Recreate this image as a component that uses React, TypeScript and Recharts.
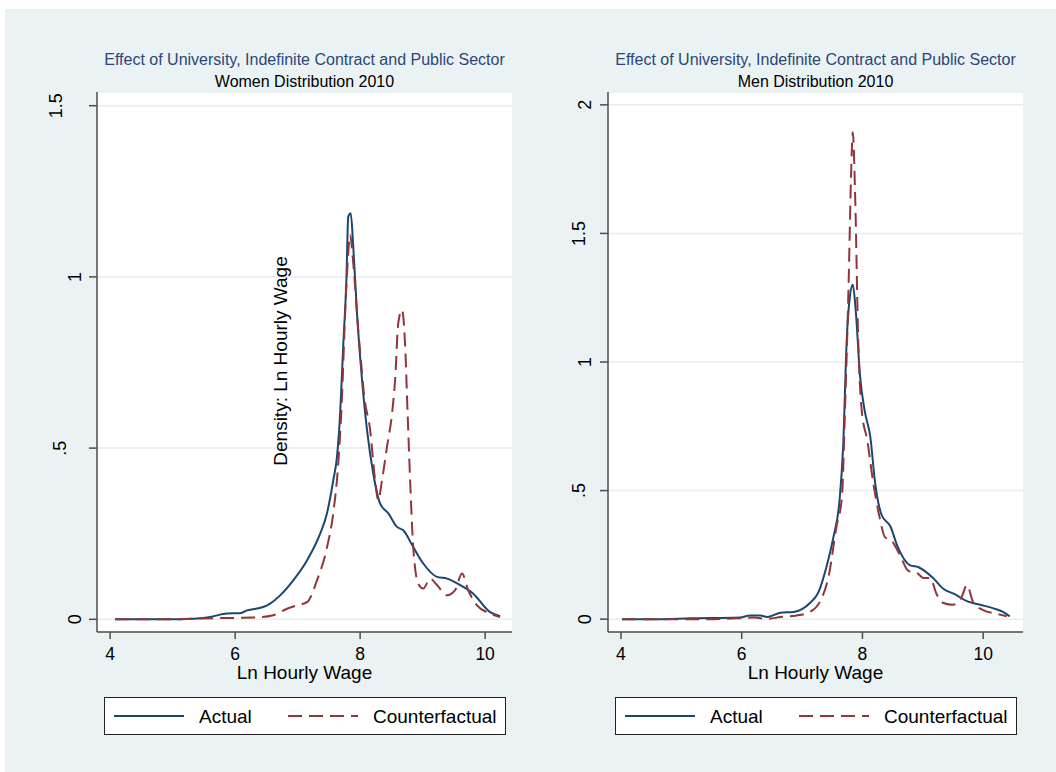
import { LineChart, Line, XAxis, YAxis, CartesianGrid } from 'recharts';

// kernel density estimates: [ln wage, density]
const womenActual: [number, number][] = [
  [4.08, 0], [4.6, 0], [5.0, 0], [5.23, 0.001], [5.6, 0.007], [5.87, 0.017], [6.08, 0.018],
  [6.19, 0.026], [6.45, 0.036], [6.56, 0.046], [6.72, 0.07], [6.93, 0.114], [7.15, 0.172],
  [7.36, 0.25], [7.47, 0.31], [7.57, 0.406], [7.63, 0.475], [7.68, 0.6], [7.73, 0.8],
  [7.78, 0.99], [7.81, 1.176], [7.85, 1.186], [7.89, 1.089], [7.95, 0.894], [8.03, 0.7],
  [8.11, 0.553], [8.21, 0.426], [8.32, 0.338], [8.45, 0.31], [8.59, 0.27], [8.69, 0.26],
  [8.85, 0.211], [9.01, 0.163], [9.23, 0.124], [9.39, 0.119], [9.6, 0.1], [9.81, 0.075],
  [10.08, 0.021], [10.24, 0.009],
];

const womenCounter: [number, number][] = [
  [4.08, 0], [4.6, 0], [5.0, 0], [5.3, 0.002], [5.9, 0.004], [6.3, 0.005], [6.61, 0.012],
  [6.83, 0.031], [6.99, 0.041], [7.15, 0.05], [7.31, 0.114], [7.47, 0.21], [7.57, 0.31],
  [7.65, 0.455], [7.71, 0.65], [7.76, 0.894], [7.8, 1.04], [7.84, 1.123], [7.89, 1.04],
  [7.97, 0.845], [8.03, 0.72], [8.06, 0.66], [8.16, 0.553], [8.24, 0.406], [8.29, 0.348],
  [8.35, 0.406], [8.43, 0.504], [8.51, 0.6], [8.56, 0.7], [8.61, 0.865], [8.67, 0.904],
  [8.72, 0.8], [8.76, 0.6], [8.8, 0.406], [8.85, 0.21], [8.93, 0.104], [9.01, 0.09],
  [9.12, 0.119], [9.23, 0.1], [9.39, 0.07], [9.52, 0.085], [9.63, 0.134], [9.73, 0.085],
  [9.87, 0.041], [10.08, 0.017], [10.24, 0.007],
];

const menActual: [number, number][] = [
  [4.02, 0], [4.6, 0], [5.15, 0.003], [5.97, 0.006], [6.14, 0.014], [6.31, 0.014],
  [6.42, 0.008], [6.64, 0.025], [6.86, 0.028], [7.0, 0.039], [7.13, 0.063], [7.27, 0.104],
  [7.41, 0.209], [7.52, 0.32], [7.62, 0.46], [7.68, 0.668], [7.74, 1.086], [7.79, 1.25],
  [7.84, 1.3], [7.89, 1.197], [7.96, 0.946], [8.04, 0.807], [8.13, 0.71], [8.21, 0.53],
  [8.32, 0.404], [8.46, 0.362], [8.59, 0.278], [8.79, 0.209], [8.93, 0.202], [9.17, 0.16],
  [9.34, 0.118], [9.53, 0.097], [9.73, 0.07], [9.95, 0.056], [10.17, 0.042], [10.33, 0.028],
  [10.44, 0.011],
];

const menCounter: [number, number][] = [
  [4.02, 0], [4.6, 0], [5.4, 0], [5.92, 0.003], [6.2, 0.006], [6.42, 0.001], [6.64, 0.008],
  [6.91, 0.014], [7.13, 0.028], [7.3, 0.07], [7.44, 0.167], [7.57, 0.36], [7.66, 0.473],
  [7.71, 0.807], [7.77, 1.294], [7.81, 1.71], [7.84, 1.893], [7.88, 1.64], [7.93, 1.086],
  [7.99, 0.807], [8.08, 0.696], [8.18, 0.529], [8.29, 0.39], [8.37, 0.32], [8.48, 0.306],
  [8.62, 0.25], [8.76, 0.188], [8.9, 0.181], [9.01, 0.16], [9.12, 0.16], [9.23, 0.097],
  [9.34, 0.063], [9.5, 0.056], [9.64, 0.084], [9.73, 0.132], [9.84, 0.063], [10.0, 0.035],
  [10.22, 0.021], [10.39, 0.011],
];

const xTicks = [4, 6, 8, 10];
const womenYTicks = [0, 0.5, 1, 1.5];
const menYTicks = [0, 0.5, 1, 1.5, 2];

const FONT = '"Liberation Sans", Arial, sans-serif';
const NAVY = '#1a476f';
const MAROON = '#90353b';
const AXIS = '#4d4d4d';
const BG = '#eaf2f3';
const DASH = '14 7';

const toPoints = (pts: [number, number][]) => pts.map(([x, y]) => ({ x, y }));

const fmt = (v: number) => (v > 0 && v < 1 ? String(v).replace(/^0/, '') : String(v));

// Stata nudges the longer vertical labels further from the axis
const makeYTick = (axisX: number, offsets: Record<string, number>) => (props: any) => {
  const label = fmt(props.payload.value);
  const cx = axisX - (offsets[label] ?? 22);
  return (
    <text
      x={cx}
      y={props.y}
      transform={`rotate(-90 ${cx} ${props.y})`}
      textAnchor="middle"
      dominantBaseline="central"
      fontSize={18}
      fontFamily={FONT}
      fill="#000"
    >
      {label}
    </text>
  );
};

const XTick = (props: any) => (
  <text x={props.x} y={660} textAnchor="middle" fontSize={17.5} fontFamily={FONT} fill="#000">
    {props.payload.value}
  </text>
);

function LegendBox() {
  return (
    <div
      style={{
        position: 'absolute',
        left: 0,
        top: 0,
        width: 400,
        height: 36,
        background: '#fff',
        border: '1px solid #222',
        fontFamily: FONT,
        fontSize: 19,
      }}
    >
      <svg width={400} height={36} style={{ position: 'absolute', left: 0, top: 0 }}>
        <line x1={9} x2={79} y1={18} y2={18} stroke={NAVY} strokeWidth={2} />
        <line x1={183} x2={253} y1={18} y2={18} stroke={MAROON} strokeWidth={2} strokeDasharray={DASH} />
        <text x={94} y={25} fontSize={19} fontFamily={FONT}>Actual</text>
        <text x={268} y={25} fontSize={19} fontFamily={FONT}>Counterfactual</text>
      </svg>
    </div>
  );
}

interface PanelProps {
  left: number;
  axisX: number;
  plotRight: number;
  title: string;
  actual: [number, number][];
  counter: [number, number][];
  xDomain: [number, number];
  yDomain: [number, number];
  yTicks: number[];
  yOffsets: Record<string, number>;
  showYTitle?: boolean;
}

function Panel({ left, axisX, plotRight, title, actual, counter, xDomain, yDomain, yTicks, yOffsets, showYTitle }: PanelProps) {
  const plotCenter = (axisX + plotRight) / 2;
  return (
    <div style={{ position: 'absolute', left, top: 0, width: 528, height: 772 }}>
      <div
        style={{
          position: 'absolute',
          left: plotCenter - 260,
          width: 520,
          top: 49,
          textAlign: 'center',
          fontFamily: FONT,
          fontSize: 16,
          lineHeight: '22px',
        }}
      >
        <div style={{ color: '#2b4777' }}>Effect of University, Indefinite Contract and Public Sector</div>
        <div style={{ color: '#000' }}>{title}</div>
      </div>
      <LineChart
        width={528}
        height={772}
        margin={{ top: 92, right: 528 - plotRight, left: 0, bottom: 110 }}
        style={{ position: 'absolute', left: 0, top: 0 }}
      >
        <CartesianGrid horizontal vertical={false} stroke="#e3edef" strokeWidth={1.5} fill="#fff" />
        <XAxis
          type="number"
          dataKey="x"
          domain={xDomain}
          ticks={xTicks}
          allowDataOverflow
          height={30}
          tickSize={7}
          tick={<XTick />}
          stroke={AXIS}
          strokeWidth={1.5}
        />
        <YAxis
          type="number"
          dataKey="y"
          domain={yDomain}
          ticks={yTicks}
          allowDataOverflow
          width={axisX}
          tickSize={8}
          tick={makeYTick(axisX, yOffsets)}
          stroke={AXIS}
          strokeWidth={1.5}
        />
        <Line
          data={toPoints(actual)}
          dataKey="y"
          type="monotone"
          stroke={NAVY}
          strokeWidth={2}
          dot={false}
          isAnimationActive={false}
        />
        <Line
          data={toPoints(counter)}
          dataKey="y"
          type="monotone"
          stroke={MAROON}
          strokeWidth={2}
          strokeDasharray={DASH}
          dot={false}
          isAnimationActive={false}
        />
      </LineChart>
      {showYTitle && (
        <div
          style={{
            position: 'absolute',
            left: 281 - 150,
            top: 361 - 12,
            width: 300,
            height: 24,
            lineHeight: '24px',
            textAlign: 'center',
            fontFamily: FONT,
            fontSize: 19,
            transform: 'rotate(-90deg)',
          }}
        >
          Density: Ln Hourly Wage
        </div>
      )}
      <div
        style={{
          position: 'absolute',
          left: plotCenter - 150,
          width: 300,
          top: 664,
          textAlign: 'center',
          fontFamily: FONT,
          fontSize: 19,
          lineHeight: '18px',
        }}
      >
        Ln Hourly Wage
      </div>
      <div style={{ position: 'absolute', left: plotCenter - 201, top: 697 }}>
        <LegendBox />
      </div>
    </div>
  );
}

export default function App() {
  return (
    <div style={{ position: 'absolute', left: 0, top: 0, width: 1056, height: 772, background: '#fff', overflow: 'hidden' }}>
      <div style={{ position: 'absolute', left: 5, top: 9, right: 0, bottom: 0, background: BG }} />
      <Panel
        left={0}
        axisX={97}
        plotRight={512}
        title="Women Distribution 2010"
        actual={womenActual}
        counter={womenCounter}
        xDomain={[3.79, 10.43]}
        yDomain={[-0.037, 1.54]}
        yTicks={womenYTicks}
        yOffsets={{ '0': 22, '1': 22, '.5': 37, '1.5': 41 }}
        showYTitle
      />
      <Panel
        left={528}
        axisX={80}
        plotRight={495}
        title="Men Distribution 2010"
        actual={menActual}
        counter={menCounter}
        xDomain={[3.785, 10.66]}
        yDomain={[-0.05, 2.05]}
        yTicks={menYTicks}
        yOffsets={{ '0': 23, '1': 23, '2': 23, '.5': 29, '1.5': 29 }}
      />
    </div>
  );
}
